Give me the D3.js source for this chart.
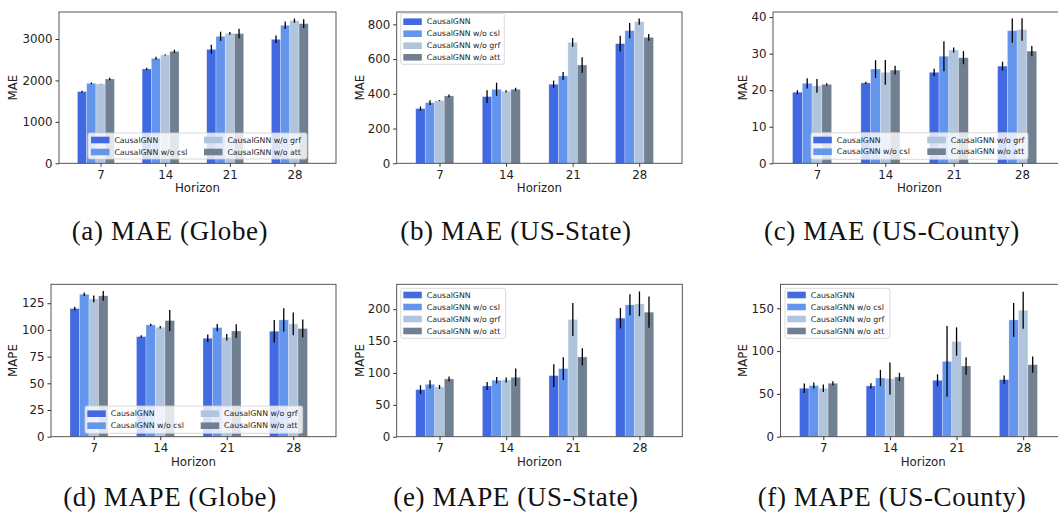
<!DOCTYPE html>
<html lang="en">
<head>
<meta charset="UTF-8">
<title>CausalGNN ablation</title>
<script src="https://cdn.jsdelivr.net/npm/d3@7"></script>
<style>
  body { margin: 0; background: #fff; }
  svg { display: block; }
  .tick text { font-family: "DejaVu Sans", sans-serif; font-size: 11.8px; fill: #222; }
  .tick line { stroke: #333; }
  .domain { display: none; }
  .axlabel { font-family: "DejaVu Sans", sans-serif; font-size: 11.8px; fill: #222; }
  .leg text { font-family: "DejaVu Sans", sans-serif; font-size: 7.8px; fill: #222; }
  .caption { font-family: "Liberation Serif", serif; font-size: 27px; fill: #111; letter-spacing: 0.6px; }
</style>
</head>
<body>
<svg id="chart" width="1058" height="516"></svg>
<script>
// data: one row per model, one column per horizon
var horizons = [7, 14, 21, 28];
var models = ["CausalGNN", "CausalGNN w/o csl", "CausalGNN w/o grf", "CausalGNN w/o att"];

var maeGlobe    = [[1730, 2277, 2751, 2993], [1931, 2534, 3065, 3331], [1915, 2615, 3137, 3443], [2035, 2703, 3130, 3371]];
var maeGlobeErr = [[20, 30, 108, 90], [20, 35, 112, 90], [5, 15, 35, 50], [30, 40, 120, 105]];

var maeState    = [[315, 384, 455, 689], [349, 426, 503, 764], [361, 414, 696, 815], [388, 426, 566, 725]];
var maeStateErr = [[12, 37, 21, 45], [14, 38, 23, 44], [3, 6, 25, 18], [8, 9, 45, 19]];

var maeCounty    = [[19.45, 22.0, 24.9, 26.6], [21.9, 25.8, 29.3, 36.3], [21.2, 24.9, 31.0, 36.6], [21.6, 25.5, 28.9, 30.7]];
var maeCountyErr = [[0.55, 0.3, 1.0, 1.2], [1.4, 2.4, 4.1, 3.3], [1.9, 3.4, 0.7, 3.1], [0.3, 1.2, 1.8, 1.4]];

var mapeGlobe    = [[120, 93.75, 92.2, 98.75], [133.4, 104.7, 102.2, 109.4], [129, 102.5, 93.1, 105.6], [131.9, 108.75, 99, 101.25]];
var mapeGlobeErr = [[1.7, 1.2, 3.6, 10.6], [1.6, 1.0, 3.4, 10.9], [3.1, 1.1, 3.1, 10.6], [4.5, 9.8, 6.3, 8.4]];

var mapeState    = [[73.8, 79.6, 95.8, 185.9], [82.2, 88.5, 106.8, 206.8], [78, 89, 183.8, 208.4], [90.6, 93.2, 125.1, 195.3]];
var mapeStateErr = [[6.8, 6.3, 18, 16], [6.5, 5, 17.8, 16.5], [3.1, 3.9, 26, 19.4], [3.7, 13.6, 13.6, 24.6]];

var mapeCounty    = [[56.6, 59.3, 65.9, 66.7], [59.7, 68.6, 88, 136.4], [56.6, 67.8, 111.2, 147.7], [62.4, 69.8, 82.6, 84.1]];
var mapeCountyErr = [[5.6, 3.1, 7, 4.8], [3.5, 9.5, 41.3, 19.8], [4.3, 18.8, 16.5, 21.5], [2.5, 4.8, 10.3, 9.5]];

var colors = ["#4169e1", "#6495ed", "#b0c4de", "#708090"];

// panel layout
var panels = [
  {vals: maeGlobe, errs: maeGlobeErr, ylab: "MAE", cap: "(a) MAE (Globe)", capX: 170,
   l: 59, r: 336, t: 12, b: 163.3, ymax: 3652, ticks: [0, 1000, 2000, 3000], labX: 13,
   leg: {cols: 2, x: 88, y: 133, w: 219, h: 26, hx: [91, 204], rows: [140, 152]}},
  {vals: maeState, errs: maeStateErr, ylab: "MAE", cap: "(b) MAE (US-State)", capX: 516,
   l: 396.7, r: 682, t: 12, b: 163.3, ymax: 871, ticks: [0, 200, 400, 600, 800], labX: 360,
   leg: {cols: 1, x: 400.7, y: 13.3, w: 103.6, h: 51, hx: [403.3], rows: [21.7, 33.7, 45.7, 57.3]}},
  {vals: maeCounty, errs: maeCountyErr, ylab: "MAE", cap: "(c) MAE (US-County)", capX: 892,
   l: 773, r: 1066, t: 12, b: 163.3, ymax: 41.4, ticks: [0, 10, 20, 30, 40], labX: 743,
   leg: {cols: 2, x: 811, y: 132.7, w: 217, h: 26.6, hx: [813.3, 927.3], rows: [140, 151.7]}},
  {vals: mapeGlobe, errs: mapeGlobeErr, ylab: "MAPE", cap: "(d) MAPE (Globe)", capX: 170,
   l: 51, r: 336, t: 284.3, b: 436.7, ymax: 142.7, ticks: [0, 25, 50, 75, 100, 125], labX: 13,
   leg: {cols: 2, x: 85, y: 406, w: 217.7, h: 27.3, hx: [87.3, 200.7], rows: [413.7, 425.7]}},
  {vals: mapeState, errs: mapeStateErr, ylab: "MAPE", cap: "(e) MAPE (US-State)", capX: 516,
   l: 396.7, r: 682.3, t: 284.3, b: 436.7, ymax: 239, ticks: [0, 50, 100, 150, 200], labX: 360,
   leg: {cols: 1, x: 400.7, y: 288.3, w: 105, h: 50, hx: [403.3], rows: [295, 307, 319, 331]}},
  {vals: mapeCounty, errs: mapeCountyErr, ylab: "MAPE", cap: "(f) MAPE (US-County)", capX: 892,
   l: 780.5, r: 1066, t: 284.3, b: 436.7, ymax: 178, ticks: [0, 50, 100, 150], labX: 743,
   leg: {cols: 1, x: 785, y: 288.3, w: 105, h: 50, hx: [787.3], rows: [295, 307, 319, 331]}}
];

var svg = d3.select("#chart");

panels.forEach(function(p, pi) {
  var x = d3.scaleLinear().domain([2.5, 32.5]).range([p.l, p.r]);
  var y = d3.scaleLinear().domain([0, p.ymax]).range([p.b, p.t]);
  var bw = x(1) - x(0);
  var g = svg.append("g");

  // bars
  models.forEach(function(m, k) {
    g.selectAll(null)
      .data(horizons)
      .enter()
      .append("rect")
      .attr("x", function(h) { return x(h + k - 2.5); })
      .attr("width", bw)
      .attr("y", function(h, i) { return y(p.vals[k][i]); })
      .attr("height", function(h, i) { return p.b - y(p.vals[k][i]); })
      .attr("fill", colors[k])
      .attr("stroke", "rgba(255,255,255,0.45)")
      .attr("stroke-width", 0.6);
  });

  // error bars
  models.forEach(function(m, k) {
    g.selectAll(null)
      .data(horizons)
      .enter()
      .append("line")
      .attr("x1", function(h) { return x(h + k - 2); })
      .attr("x2", function(h) { return x(h + k - 2); })
      .attr("y1", function(h, i) { return y(p.vals[k][i] - p.errs[k][i]); })
      .attr("y2", function(h, i) { return y(p.vals[k][i] + p.errs[k][i]); })
      .attr("stroke", "#000")
      .attr("stroke-width", 1.3);
  });

  // axes
  g.append("g")
    .attr("transform", "translate(" + p.l + ",0)")
    .call(d3.axisLeft(y).tickValues(p.ticks).tickSize(3.5).tickPadding(3).tickFormat(d3.format("d")));
  g.append("g")
    .attr("transform", "translate(0," + p.b + ")")
    .call(d3.axisBottom(x).tickValues(horizons).tickSize(3.5).tickPadding(3.5));

  // frame
  g.append("rect")
    .attr("x", p.l).attr("y", p.t)
    .attr("width", p.r - p.l).attr("height", p.b - p.t)
    .attr("fill", "none").attr("stroke", "#444").attr("stroke-width", 0.9);

  // legend
  var lg = g.append("g").attr("class", "leg");
  lg.append("rect")
    .attr("x", p.leg.x).attr("y", p.leg.y)
    .attr("width", p.leg.w).attr("height", p.leg.h)
    .attr("rx", 2)
    .attr("fill", "rgba(255,255,255,0.8)")
    .attr("stroke", "#d0d0d0").attr("stroke-width", 0.8);
  var perCol = models.length / p.leg.cols;
  models.forEach(function(m, k) {
    var c = Math.floor(k / perCol), r = k % perCol;
    var hx = p.leg.hx[c], cy = p.leg.rows[r];
    lg.append("rect")
      .attr("x", hx).attr("y", cy - 3.3)
      .attr("width", 18.5).attr("height", 6.6)
      .attr("fill", colors[k]);
    lg.append("text")
      .attr("x", hx + 23.4).attr("y", cy)
      .attr("dy", "0.35em")
      .text(m);
  });

  // axis labels
  g.append("text")
    .attr("class", "axlabel")
    .attr("x", (p.l + Math.min(p.r, 1058 + (p.r - 1058) * 0)) / 2)
    .attr("x", x(17.5))
    .attr("y", p.b + 29)
    .attr("text-anchor", "middle")
    .text("Horizon");
  g.append("text")
    .attr("class", "axlabel")
    .attr("transform", "translate(" + (p.labX + 4) + "," + ((p.t + p.b) / 2) + ") rotate(-90)")
    .attr("text-anchor", "middle")
    .text(p.ylab);

  // caption
  svg.append("text")
    .attr("class", "caption")
    .attr("x", p.capX)
    .attr("y", p.t < 100 ? 240 : 506)
    .attr("text-anchor", "middle")
    .text(p.cap);
});
</script>
</body>
</html>
